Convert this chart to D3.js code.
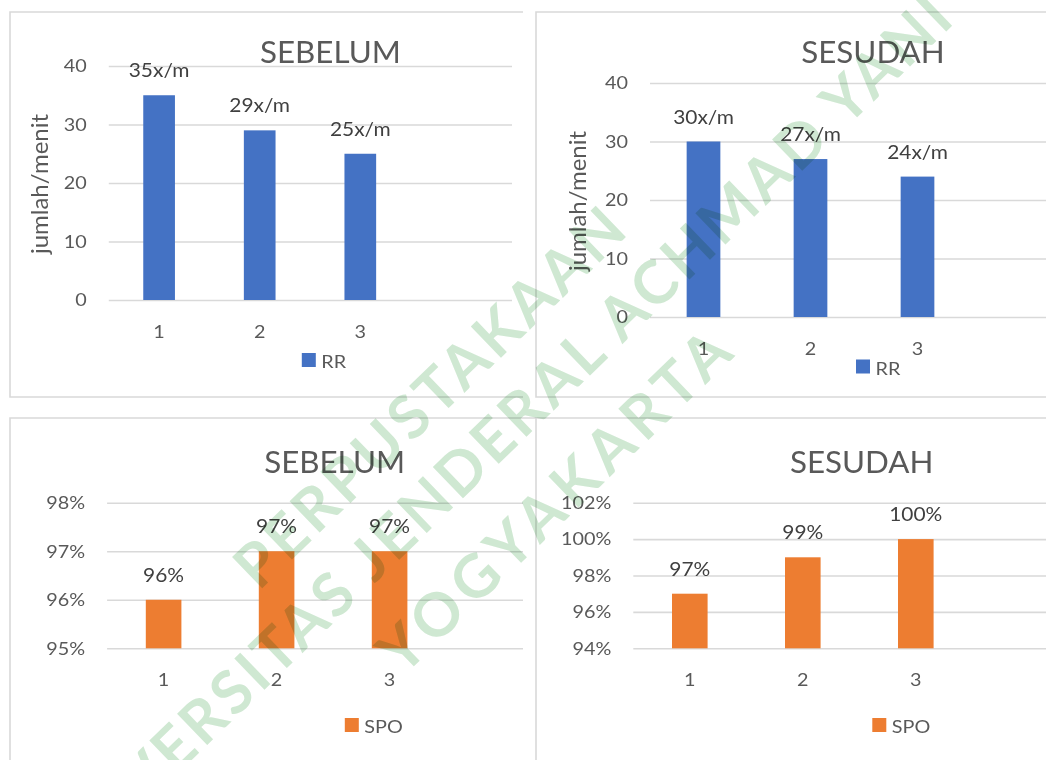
<!DOCTYPE html>
<html><head><meta charset="utf-8">
<script src="https://cdn.jsdelivr.net/npm/d3@7"></script>
<style>
html,body{margin:0;padding:0;background:#fff;}
svg{display:block;}
text{font-family:Lato,"Open Sans",sans-serif;}
</style></head><body>
<svg id="chart" width="1046" height="760"></svg>
<script>
// ---------- data ----------
const categories = ["1", "2", "3"];
const rrBefore = [35, 29, 25];
const rrAfter = [30, 27, 24];
const spoBefore = [96, 97, 97];
const spoAfter = [97, 99, 100];
const rrTicks = [0, 10, 20, 30, 40];
const spoBeforeTicks = [95, 96, 97, 98];
const spoAfterTicks = [94, 96, 98, 100, 102];
const panelTitles = ["SEBELUM", "SESUDAH", "SEBELUM", "SESUDAH"];
const seriesNames = ["RR", "RR", "SPO", "SPO"];
const yAxisTitle = "jumlah/menit";
const watermarkLines = ["PERPUSTAKAAN", "UNIVERSITAS JENDERAL ACHMAD YANI", "YOGYAKARTA"];

// ---------- layout ----------
const SX = 1.1; // horizontal text stretch of the source picture
const BLUE = "#4472C4", ORANGE = "#ED7D31";
const svg = d3.select("#chart");

const panels = [
  {values: rrBefore, fmt: d => d + "x/m", color: BLUE, ticks: rrTicks, tickFmt: d => d,
   yDomain: [0, 40], yRange: [300, 66], xRange: [108.8, 511.2], gridRight: 512,
   title: [330.4, 63], axisTitle: [47.5, 184], legend: [301.8, 353],
   border: "M523,12H10V397H523"},
  {values: rrAfter, fmt: d => d + "x/m", color: BLUE, ticks: rrTicks, tickFmt: d => d,
   yDomain: [0, 40], yRange: [317, 83], xRange: [650, 1078], gridRight: 1046,
   title: [873, 63], axisTitle: [586, 201], legend: [856, 359.5],
   border: "M1046,12H536V397H1046"},
  {values: spoBefore, fmt: d => d + "%", color: ORANGE, ticks: spoBeforeTicks, tickFmt: d => d + "%",
   yDomain: [95, 98], yRange: [648.3, 502.7], xRange: [107.1, 559.1], gridRight: 523,
   title: [334.6, 473], axisTitle: null, legend: [344.8, 718],
   border: "M536,418H10V760"},
  {values: spoAfter, fmt: d => d + "%", color: ORANGE, ticks: spoAfterTicks, tickFmt: d => d + "%",
   yDomain: [94, 102], yRange: [648.3, 502.7], xRange: [633.3, 1085.3], gridRight: 1046,
   title: [861.7, 473], axisTitle: null, legend: [872.3, 718],
   border: "M1046,418H536V760"}
];

function stretchedText(g, x, y, str, size, color, anchor, sx) {
  return g.append("text")
    .attr("transform", `translate(${x},${y}) scale(${sx || SX},1)`)
    .attr("text-anchor", anchor || "middle")
    .attr("font-size", size)
    .attr("fill", color)
    .text(str);
}

panels.forEach((p, i) => {
  const g = svg.append("g");
  g.append("path").attr("d", p.border).attr("fill", "none")
    .attr("stroke", "#D9D9D9").attr("stroke-width", 1.6);

  const x = d3.scaleBand().domain([...categories, ""]).range(p.xRange).padding(0);
  const y = d3.scaleLinear().domain(p.yDomain).range(p.yRange);
  const left = p.xRange[0];

  // gridlines
  const grid = g.append("g").attr("transform", `translate(${left},0)`)
    .call(d3.axisLeft(y).tickValues(p.ticks).tickSize(-(p.gridRight - left)).tickFormat(""));
  grid.select(".domain").remove();
  grid.selectAll(".tick line").attr("stroke", "#D9D9D9").attr("stroke-width", 1.6);

  // y tick labels
  const ya = g.append("g").attr("transform", `translate(${left},0)`)
    .call(d3.axisLeft(y).tickValues(p.ticks).tickSize(0).tickPadding(22).tickFormat(p.tickFmt));
  ya.select(".domain").remove();
  ya.selectAll(".tick text")
    .attr("x", -22 / SX).attr("transform", `scale(${SX},1)`)
    .attr("font-family", "Lato").attr("font-size", 18).attr("fill", "#595959");

  // x tick labels
  const xa = g.append("g").attr("transform", `translate(0,${p.yRange[0]})`)
    .call(d3.axisBottom(x).tickValues(categories).tickSize(0));
  xa.select(".domain").remove();
  xa.selectAll(".tick text")
    .attr("y", 38).attr("dy", null).attr("transform", `scale(${SX},1)`)
    .attr("font-family", "Lato").attr("font-size", 18).attr("fill", "#595959");

  // bars
  const bw = x.bandwidth() * 0.315;
  g.selectAll("rect.bar").data(p.values).join("rect").attr("class", "bar")
    .attr("x", (d, k) => x(categories[k]) + (x.bandwidth() - bw) / 2)
    .attr("width", bw)
    .attr("y", d => y(d))
    .attr("height", d => y(p.yDomain[0]) - y(d))
    .attr("fill", p.color);

  // data labels
  p.values.forEach((d, k) => {
    stretchedText(g, x(categories[k]) + x.bandwidth() / 2, y(d) - 18, p.fmt(d), 19, "#404040");
  });

  // title
  stretchedText(g, p.title[0], p.title[1], panelTitles[i], 30, "#595959", "middle", 1.045);

  // y axis title
  if (p.axisTitle) {
    g.append("text")
      .attr("transform", `translate(${p.axisTitle[0]},${p.axisTitle[1]}) rotate(-90)`)
      .attr("text-anchor", "middle").attr("font-size", 24).attr("fill", "#595959")
      .text(yAxisTitle);
  }

  // legend
  g.append("rect").attr("x", p.legend[0]).attr("y", p.legend[1])
    .attr("width", 14).attr("height", 14).attr("fill", p.color);
  stretchedText(g, p.legend[0] + 19.5, p.legend[1] + 15, seriesNames[i], 18, "#595959", "start");
});

// watermark
const wm = [
  {cx: 428, cy: 396, len: 515},
  {cx: 490, cy: 440, len: 1250},
  {cx: 553, cy: 500, len: 462}
];
const wg = svg.append("g");
watermarkLines.forEach((t, i) => {
  wg.append("text")
    .attr("transform", `translate(${wm[i].cx},${wm[i].cy}) rotate(-44)`)
    .attr("text-anchor", "middle").attr("dominant-baseline", "central")
    .attr("font-family", "Liberation Sans").attr("font-weight", "bold")
    .attr("font-size", 60)
    .attr("textLength", wm[i].len).attr("lengthAdjust", "spacing")
    .attr("fill", "#CFE8D2")
    .style("mix-blend-mode", "multiply")
    .text(t);
});
</script>
</body></html>
